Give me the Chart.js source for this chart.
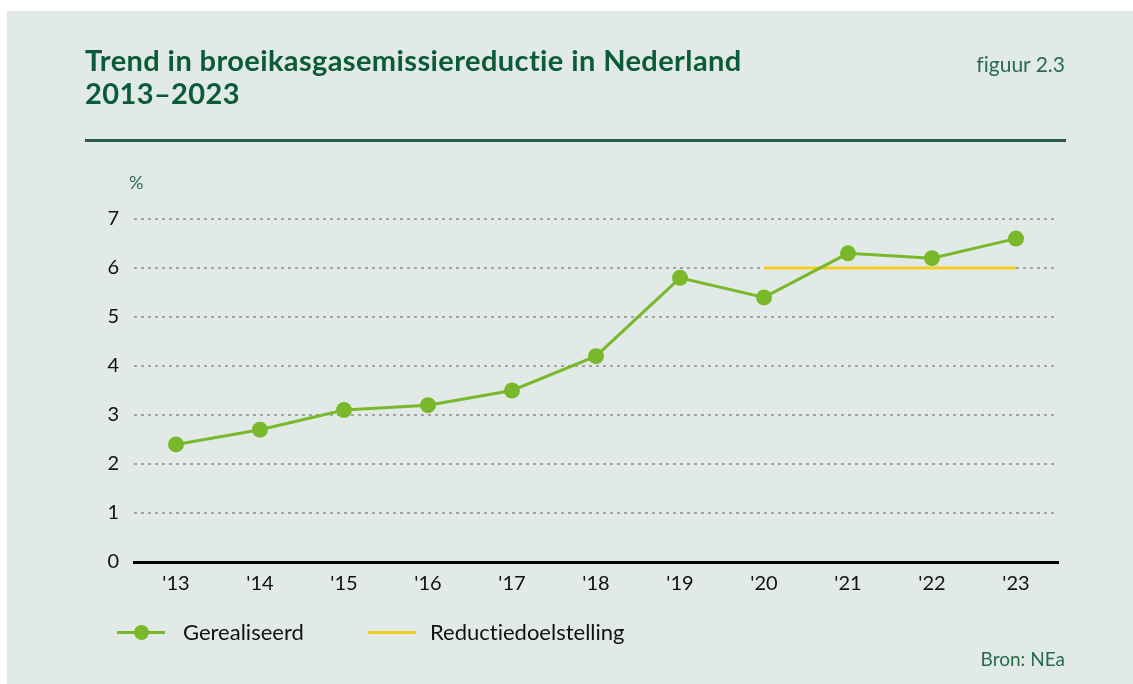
<!DOCTYPE html>
<html>
<head>
<meta charset="utf-8">
<script src="https://cdn.jsdelivr.net/npm/chart.js@4/dist/chart.umd.min.js"></script>
<style>
  html, body { margin: 0; padding: 0; background: #fff; }
  body { width: 1133px; height: 684px; position: relative; overflow: hidden; font-family: Lato, "Open Sans", sans-serif; font-variant-ligatures: none; }
  #panel { position: absolute; left: 7px; top: 11px; width: 1126px; height: 673px; background: #e1eae6; }
  #chart { position: absolute; left: 0; top: 0; }
  .title { position: absolute; left: 85px; top: 43px; font-weight: bold; font-size: 29px; letter-spacing: 0.4px; line-height: 33px; color: #0b5a3a; }
  .fig { position: absolute; right: 68px; top: 51px; font-size: 21px; color: #2a6a4e; }
  .rule { position: absolute; left: 85px; top: 139px; width: 981px; height: 3px; background: #275e48; }
  .unit { position: absolute; left: 129px; top: 171px; font-size: 18px; color: #2a6a4e; }
  .legend { position: absolute; top: 618px; left: 117px; font-size: 22px; color: #111; }
  .legend .item { position: absolute; top: 0; white-space: nowrap; }
  .swatch { position: absolute; top: 13px; height: 3px; width: 48px; }
  .dot { position: absolute; top: 7px; left: 17px; width: 15px; height: 15px; border-radius: 50%; background: #79b82a; }
  .src { position: absolute; right: 68px; top: 647px; font-size: 19px; color: #2a6a4e; }
</style>
</head>
<body>
<div id="panel"></div>
<canvas id="chart" width="1133" height="684"></canvas>
<div class="title">Trend in broeikasgasemissiereductie in Nederland<br>2013–2023</div>
<div class="fig">figuur 2.3</div>
<div class="rule"></div>
<div class="unit">%</div>
<div class="legend">
  <div class="item" style="left:0">
    <div class="swatch" style="left:0;background:#79b82a"></div>
    <div class="dot"></div>
    <span style="position:absolute;left:66px;top:0">Gerealiseerd</span>
  </div>
  <div class="item" style="left:251px">
    <div class="swatch" style="left:0;background:#f5cc1f"></div>
    <span style="position:absolute;left:62px;top:0">Reductiedoelstelling</span>
  </div>
</div>
<div class="src">Bron: NEa</div>
<script>
// jaren en waarden (%)
var years = ["'13", "'14", "'15", "'16", "'17", "'18", "'19", "'20", "'21", "'22", "'23"];
var realised = [2.4, 2.7, 3.1, 3.2, 3.5, 4.2, 5.8, 5.4, 6.3, 6.2, 6.6];
var target = [null, null, null, null, null, null, null, 6, 6, 6, 6];
var yTicks = [0, 1, 2, 3, 4, 5, 6, 7];

var green = '#79b82a';
var yellow = '#f5cc1f';

var ctx = document.getElementById('chart').getContext('2d');
new Chart(ctx, {
    type: 'line',
    data: {
        labels: years,
        datasets: [{
            label: 'Reductiedoelstelling',
            data: target,
            borderColor: yellow,
            borderWidth: 3,
            pointRadius: 0,
            spanGaps: false,
            order: 2
        }, {
            label: 'Gerealiseerd',
            data: realised,
            borderColor: green,
            backgroundColor: green,
            borderWidth: 3,
            pointRadius: 8,
            pointBorderWidth: 0,
            order: 1
        }]
    },
    options: {
        responsive: false,
        animation: false,
        layout: { padding: { left: 0, right: 75, top: 219, bottom: 0 } },
        plugins: { legend: { display: false }, tooltip: { enabled: false } },
        scales: {
            x: {
                offset: true,
                grid: { display: false },
                border: { color: '#000', width: 3 },
                ticks: { color: '#111', font: { family: 'Lato', size: 20 }, padding: 2 },
                afterFit: function(scale) { scale.height = 122; }
            },
            y: {
                min: 0,
                max: 7,
                afterBuildTicks: function(scale) {
                    scale.ticks = yTicks.map(function(v) { return { value: v }; });
                },
                grid: {
                    color: '#a3a3a3',
                    lineWidth: 2,
                    drawTicks: false
                },
                // dotted grid lines
                border: { display: false, dash: [3, 4] },
                ticks: { color: '#111', font: { family: 'Lato', size: 20 }, padding: 15 },
                afterFit: function(scale) { scale.width = 134; }
            }
        }
    }
});
</script>
</body>
</html>
